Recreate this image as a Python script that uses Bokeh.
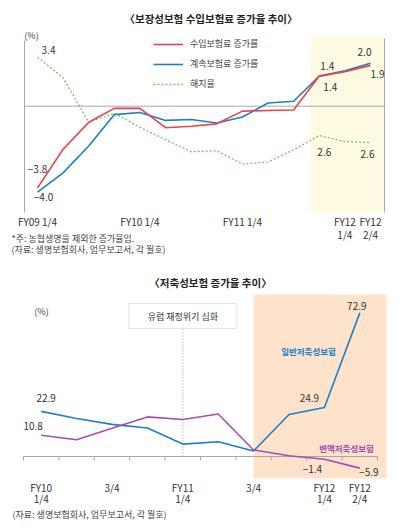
import math
from bokeh.plotting import figure
from bokeh.models import (Range1d, BoxAnnotation, Label, Legend, LegendItem, ColumnDataSource)
from bokeh.layouts import column
from bokeh.embed import file_html
from bokeh.resources import INLINE
from bokeh.core.properties import value

# ---------------- data: chart 1 ----------------
title1 = "〈보장성보험 수입보험료 증가율 추이〉"
quarters1 = ["FY09 1/4", "FY09 2/4", "FY09 3/4", "FY09 4/4",
             "FY10 1/4", "FY10 2/4", "FY10 3/4", "FY10 4/4",
             "FY11 1/4", "FY11 2/4", "FY11 3/4", "FY11 4/4",
             "FY12 1/4", "FY12 2/4"]
series1_names = ["수입보험료 증가률", "계속보험료 증가률", "해지율"]
premium_growth = [-3.8, -2.0, -0.75, -0.1, -0.1, -1.0, -0.93, -0.82, -0.23, -0.2, -0.18, 1.4, 1.6, 1.9]
renewal_growth = [-4.0, -3.1, -1.85, -0.39, -0.29, -0.66, -0.62, -0.78, -0.5, 0.15, 0.23, 1.4, 1.65, 2.0]
lapse_rate = [3.4, 3.2, 2.76, 2.85, 2.71, 2.59, 2.47, 2.48, 2.35, 2.37, 2.49, 2.63, 2.57, 2.56]
tick_quarters1 = ["FY09 1/4", "FY10 1/4", "FY11 1/4", "FY12 1/4", "FY12 2/4"]
tick_labels1 = ["FY09 1/4", "FY10 1/4", "FY11 1/4", "FY12\n1/4", "FY12\n2/4"]
unit_text = "(%)"
note1 = "*주: 농협생명을 제외한 증가율임."
source1 = "(자료: 생명보험회사, 업무보고서, 각 월호)"

# ---------------- data: chart 2 ----------------
title2 = "〈저축성보험 증가율 추이〉"
quarters2 = ["FY10 1/4", "FY10 2/4", "FY10 3/4", "FY10 4/4",
             "FY11 1/4", "FY11 2/4", "FY11 3/4", "FY11 4/4",
             "FY12 1/4", "FY12 2/4"]
series2_names = ["일반저축성보험", "변액저축성보험"]
general_savings = [22.9, 19.3, 16.3, 14.5, 6.3, 7.5, 2.8, 21.3, 24.9, 72.9]
variable_savings = [10.8, 8.5, 14.3, 20.1, 18.8, 21.6, 3.3, 0.4, -1.4, -5.9]
tick_quarters2 = ["FY10 1/4", "FY10 3/4", "FY11 1/4", "FY11 3/4", "FY12 1/4", "FY12 2/4"]
tick_labels2 = ["FY10\n1/4", "3/4", "FY11\n1/4", "3/4", "FY12\n1/4", "FY12\n2/4"]
crisis_quarter = "FY11 1/4"
crisis_text = "유럽 재정위기 심화"
highlight_from2 = "FY11 3/4"
source2 = "(자료: 생명보험회사, 업무보고서, 각 월호)"

# ---------------- styles ----------------
KR = "Noto Sans CJK KR"
LAT = "Noto Sans CJK KR"
RED = "#E8434A"
BLUE = "#1F7EC6"
GREEN = "#74C566"
PURPLE = "#A24EB3"
GRAY = "#A8A8A8"
TXT = "#333333"
NOTE = "#444444"
YELLOW = "#FEFBE2"
PEACH = "#FDE3CB"

W = 400


def fmt(v):
    return f"{v:.1f}".replace("-", "\u2212")


def add_label(p, text, xy, font, size, color=TXT, bold=False, align="center",
              baseline="middle", y_range_name="default"):
    p.add_layout(Label(x=xy[0], y=xy[1], text=text, text_font=font,
                       text_font_size=f"{size}px", text_color=color,
                       text_align=align, text_baseline=baseline,
                       text_font_style="bold" if bold else "normal",
                       y_range_name=y_range_name))


def bare_figure(height, xr, yr):
    p = figure(width=W, height=height, output_backend="svg", toolbar_location=None,
               x_range=xr, y_range=yr, x_axis_type=None, y_axis_type=None,
               min_border=0, outline_line_color=None,
               background_fill_color="white", border_fill_color="white")
    p.xgrid.visible = False
    p.ygrid.visible = False
    return p


# ================= chart 1 (page y 0..258) =================
H1 = 258
STEP1 = 25.615      # px per quarter
X0_1 = 37.0         # page x of first quarter
ZERO1 = 105.7       # page y of zero line
PPU1 = 21.5         # px per %p
LAPSE_REF, LAPSE_REF_Y, PPU1L = 3.4, 56.7, 101.7

x1_range = Range1d(-X0_1 / STEP1, (W - X0_1) / STEP1)
y1_range = Range1d(-(H1 - ZERO1) / PPU1, ZERO1 / PPU1)
lapse_end = LAPSE_REF + LAPSE_REF_Y / PPU1L
lapse_range = Range1d(lapse_end - H1 / PPU1L, lapse_end)


def d1(px, py):
    return (px - X0_1) / STEP1, (ZERO1 - py) / PPU1


p1 = bare_figure(H1, x1_range, y1_range)
p1.extra_y_ranges = {"lapse": lapse_range}
X1 = list(range(len(quarters1)))

# geometry of the drawn chart area
F1_L, F1_R, F1_T, F1_B = 24, 384, 36, 212
hl_l, hl_t = d1(310, F1_T)
hl_r, hl_b = d1(F1_R, F1_B)
p1.add_layout(BoxAnnotation(left=hl_l, right=hl_r, top=hl_t, bottom=hl_b,
                            fill_color=YELLOW, fill_alpha=1.0, line_color=None,
                            level="underlay"))
ax_l, ax_top = d1(F1_L, 40)
ax_r, ax_rtop = d1(F1_R, 38)
_, ax_bot = d1(0, F1_B)
p1.segment(x0=[ax_l, ax_r], y0=[ax_bot, ax_bot], x1=[ax_l, ax_r], y1=[ax_top, ax_rtop],
           line_color=GRAY, line_width=1)
zl, _ = d1(F1_L, 0)
zr, _ = d1(F1_R + 1, 0)
p1.segment(x0=[zl], y0=[0], x1=[zr], y1=[0], line_color=GRAY, line_width=1)

r_lapse = p1.line(X1, lapse_rate, line_color=GREEN, line_width=1.3, line_dash="2 2",
                  y_range_name="lapse")
r_renew = p1.line(X1, renewal_growth, line_color=BLUE, line_width=1.6)
r_prem = p1.line(X1, premium_growth, line_color=RED, line_width=1.6)

legend = Legend(items=[LegendItem(label=series1_names[0], renderers=[r_prem]),
                       LegendItem(label=series1_names[1], renderers=[r_renew]),
                       LegendItem(label=series1_names[2], renderers=[r_lapse])],
                location=(153, H1 - 90), orientation="vertical",
                glyph_width=30, glyph_height=12, label_height=12, label_standoff=7,
                spacing=7, padding=0, margin=0, border_line_color=None,
                background_fill_alpha=0.0,
                label_text_font=KR, label_text_font_size="9px", label_text_color=NOTE)
p1.add_layout(legend)

# x tick labels (two rows)
tx = [quarters1.index(q) for q in tick_quarters1]
row1 = [lab.split("\n")[0] for lab in tick_labels1]
row2 = [lab.split("\n")[1] if "\n" in lab else "" for lab in tick_labels1]
for rows, py in ((row1, 220.5), (row2, 233.5)):
    p1.text(x=tx, y=[d1(0, py)[1]] * len(tx), text=rows,
            text_font=value(LAT), text_font_size=value("10px"), text_color=TXT,
            text_align="center", text_baseline="middle")

# value labels (series, quarter index, dx px, dy px)
series1 = {"prem": premium_growth, "renew": renewal_growth, "lapse": lapse_rate}
value_labels1 = [("prem", 0, 0, -19), ("renew", 0, 6, 5), ("lapse", 0, 11, -7),
                 ("renew", 11, 8, -10), ("prem", 11, 11, 11),
                 ("renew", 13, -6, -11), ("prem", 13, 7, 9),
                 ("lapse", 11, 5, 16), ("lapse", 13, -3, 11)]
for rng_name, keys in (("default", ("prem", "renew")), ("lapse", ("lapse",))):
    rows = [r for r in value_labels1 if r[0] in keys]
    src = ColumnDataSource(dict(
        x=[X1[i] for _, i, _, _ in rows],
        y=[series1[s][i] for s, i, _, _ in rows],
        t=[fmt(series1[s][i]) for s, i, _, _ in rows],
        dx=[dx for _, _, dx, _ in rows],
        dy=[dy for _, _, _, dy in rows]))
    p1.text(x="x", y="y", text="t", x_offset="dx", y_offset="dy", source=src,
            text_font=value(LAT), text_font_size=value("10px"), text_color=TXT,
            text_align="center", text_baseline="middle", y_range_name=rng_name)

add_label(p1, title1, d1(210.5, 18), KR, 10.5, color="#222222", bold=True)
add_label(p1, unit_text, d1(31, 34.5), LAT, 9, color=NOTE)
add_label(p1, note1, d1(11, 237.5), KR, 9, color=NOTE, align="left")
add_label(p1, source1, d1(11, 248.5), KR, 9, color=NOTE, align="left")

# ================= chart 2 (page y 258..528) =================
H2 = 270
TOP2 = 258
STEP2 = 35.4
X0_2 = 23.0         # page x of left edge of first quarter slot
ZERO2 = 456.0       # page y of zero line
PPU2 = 1.97

x2_range = Range1d(-0.5 - X0_2 / STEP2, -0.5 + (W - X0_2) / STEP2)
y2_range = Range1d(-(TOP2 + H2 - ZERO2) / PPU2, (ZERO2 - TOP2) / PPU2)


def d2(px, py):
    return (px - X0_2) / STEP2 - 0.5, (ZERO2 - py) / PPU2


p2 = bare_figure(H2, x2_range, y2_range)
X2 = list(range(len(quarters2)))

hl2_r, hl2_t = d2(386, 294)
_, hl2_b = d2(0, 478)
p2.add_layout(BoxAnnotation(left=quarters2.index(highlight_from2), right=hl2_r,
                            top=hl2_t, bottom=hl2_b, fill_color=PEACH,
                            fill_alpha=1.0, line_color=None, level="underlay"))

# zero axis with hanging ticks at quarter boundaries
bounds = [i - 0.5 for i in range(len(quarters2) + 1)]
p2.segment(x0=[bounds[0]], y0=[0], x1=[bounds[-1]], y1=[0], line_color=GRAY, line_width=1)
p2.ray(x=bounds, y=[0] * len(bounds), length=4, length_units="screen",
       angle=-math.pi / 2, line_color=GRAY, line_width=1)

# crisis marker
ci = quarters2.index(crisis_quarter)
box_half_w = 54 / STEP2
_, box_bottom = d2(0, 328)
_, box_top = d2(0, 303)
p2.segment(x0=[ci], y0=[0], x1=[ci], y1=[box_bottom], line_color="#999999",
           line_width=1, line_dash="1 2")
p2.add_layout(BoxAnnotation(left=ci - box_half_w, right=ci + box_half_w,
                            bottom=box_bottom, top=box_top,
                            fill_color="white", fill_alpha=1.0,
                            line_color=GRAY, line_width=1))
add_label(p2, crisis_text, (ci, (box_top + box_bottom) / 2), KR, 9, color=TXT)

p2.line(X2, general_savings, line_color=BLUE, line_width=1.6)
p2.line(X2, variable_savings, line_color=PURPLE, line_width=1.6)

# x tick labels (two rows)
tx2 = [quarters2.index(q) for q in tick_quarters2]
row1b = [lab.split("\n")[0] for lab in tick_labels2]
row2b = [lab.split("\n")[1] if "\n" in lab else "" for lab in tick_labels2]
for rows, py in ((row1b, 487), (row2b, 498)):
    p2.text(x=tx2, y=[d2(0, py)[1]] * len(tx2), text=rows,
            text_font=value(LAT), text_font_size=value("10px"), text_color=TXT,
            text_align="center", text_baseline="middle")

series2 = {"gen": general_savings, "var": variable_savings}
value_labels2 = [("gen", 0, 5, -13), ("var", 0, -8, -9), ("gen", 8, -15, -9),
                 ("gen", 9, -3, -7), ("var", 8, -12, 10), ("var", 9, 9, 4)]
src2 = ColumnDataSource(dict(
    x=[X2[i] for _, i, _, _ in value_labels2],
    y=[series2[s][i] for s, i, _, _ in value_labels2],
    t=[fmt(series2[s][i]) for s, i, _, _ in value_labels2],
    dx=[dx for _, _, dx, _ in value_labels2],
    dy=[dy for _, _, _, dy in value_labels2]))
p2.text(x="x", y="y", text="t", x_offset="dx", y_offset="dy", source=src2,
        text_font=value(LAT), text_font_size=value("10px"), text_color=TXT,
        text_align="center", text_baseline="middle")

add_label(p2, series2_names[0], d2(308, 350.7), KR, 8.5, color=BLUE, bold=True)
add_label(p2, series2_names[1], d2(346, 447.3), KR, 8.5, color=PURPLE, bold=True)
add_label(p2, title2, d2(210, 282), KR, 10.5, color="#222222", bold=True)
add_label(p2, unit_text, d2(41, 311), LAT, 9, color=NOTE)
add_label(p2, source2, d2(12, 514), KR, 9, color=NOTE, align="left")

layout = column(p1, p2)
open("out.html", "w").write(file_html(layout, INLINE))
